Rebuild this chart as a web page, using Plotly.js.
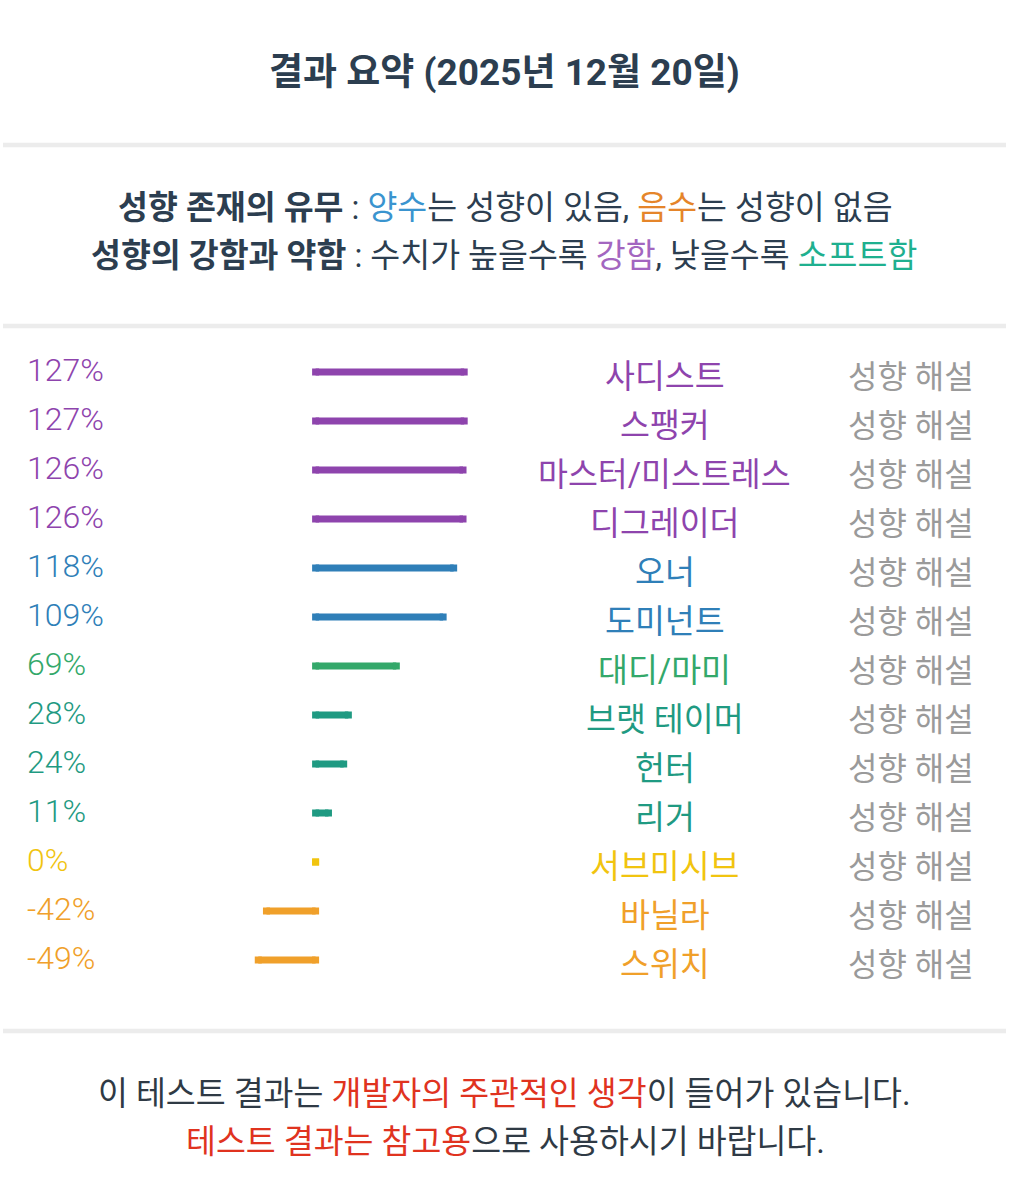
<!DOCTYPE html>
<html lang="ko">
<head>
<meta charset="utf-8">
<title>결과 요약</title>
<script src="https://cdn.plot.ly/plotly-3.0.1.min.js"></script>
<style>
  html, body { margin: 0; padding: 0; background: #ffffff; }
  #chart { width: 1025px; height: 1200px; }
</style>
</head>
<body>
<div id="chart"></div>
<script>
// Result data: trait names and their scores (%)
const traits = ['사디스트', '스팽커', '마스터/미스트레스', '디그레이더', '오너', '도미넌트',
                '대디/마미', '브랫 테이머', '헌터', '리거', '서브미시브', '바닐라', '스위치'];
const scores = [127, 127, 126, 126, 118, 109, 69, 28, 24, 11, 0, -42, -49];
const detailLabel = '성향 해설';

const titleText = '결과 요약 (2025년 12월 20일)';

// Palette for each row's bar and labels
const PURPLE = '#8e44ad', BLUE = '#2f7fb8', GREEN = '#33a86a', TEAL = '#1f9a82',
      YELLOW = '#f1c40f', ORANGE = '#f0a02a';
const rowColors = [PURPLE, PURPLE, PURPLE, PURPLE, BLUE, BLUE, GREEN, TEAL, TEAL, TEAL, YELLOW, ORANGE, ORANGE];

const W = 1025, H = 1200;
const FONT = 'Roboto, "Noto Sans CJK KR", sans-serif';
const DARK = '#2c3e50';
const BODY = 32.5;
const px = v => v / W;          // horizontal pixel -> paper
const py = v => 1 - v / H;      // vertical pixel (from top) -> paper

// Horizontal scale: 1.17 px per percent, zero line at x = 315.6 px
const PX_PER_PCT = 1.17, ZERO_X = 315.6;
const xMin = -ZERO_X / PX_PER_PCT, xMax = xMin + W / PX_PER_PCT;
// Rows start at y = 372 px and are 49 px apart
const ROW0 = 372, ROW_STEP = 49;
const yTop = (0 - ROW0) / ROW_STEP, yBottom = (H - ROW0) / ROW_STEP;

// One thick line per trait, with square ends
const traces = scores.map((v, i) => ({
  type: 'scatter',
  mode: 'lines+markers',
  x: [0, v],
  y: [i, i],
  line: { color: rowColors[i], width: 7 },
  marker: { symbol: 'square', size: 7, color: rowColors[i] },
  hoverinfo: 'skip',
  showlegend: false
}));

const annotations = [];

// Title
annotations.push({
  xref: 'paper', yref: 'paper', x: px(504), y: py(73),
  xanchor: 'center', yanchor: 'middle', showarrow: false,
  text: '<b>' + titleText + '</b>',
  font: { family: FONT, size: 37, color: DARK }
});

// Explanation lines
annotations.push({
  xref: 'paper', yref: 'paper', x: px(505), y: py(208),
  xanchor: 'center', yanchor: 'middle', showarrow: false,
  text: '<b>성향 존재의 유무</b> : <span style="color:#3a94cf">양수</span>는 성향이 있음, ' +
        '<span style="color:#e5852a">음수</span>는 성향이 없음',
  font: { family: FONT, size: BODY, color: DARK }
});
annotations.push({
  xref: 'paper', yref: 'paper', x: px(504), y: py(256),
  xanchor: 'center', yanchor: 'middle', showarrow: false,
  text: '<b>성향의 강함과 약함</b> : 수치가 높을수록 <span style="color:#a366c0">강함</span>, ' +
        '낮을수록 <span style="color:#1fb08f">소프트함</span>',
  font: { family: FONT, size: BODY, color: DARK }
});

// Row labels: score, trait name, detail link
scores.forEach((v, i) => {
  annotations.push({
    xref: 'paper', yref: 'y', x: px(25), y: i, yshift: 2,
    xanchor: 'left', yanchor: 'middle', showarrow: false,
    text: v + '%',
    font: { family: FONT, size: 32, weight: 300, color: rowColors[i] }
  });
  annotations.push({
    xref: 'paper', yref: 'y', x: px(664.5), y: i, yshift: -5,
    xanchor: 'center', yanchor: 'middle', showarrow: false,
    text: traits[i],
    font: { family: FONT, size: BODY, color: rowColors[i] }
  });
  annotations.push({
    xref: 'paper', yref: 'y', x: px(910.5), y: i, yshift: -5,
    xanchor: 'center', yanchor: 'middle', showarrow: false,
    text: detailLabel,
    font: { family: FONT, size: 32, color: '#9a9a9a' }
  });
});

// Footer notice
annotations.push({
  xref: 'paper', yref: 'paper', x: px(504.5), y: py(1094),
  xanchor: 'center', yanchor: 'middle', showarrow: false,
  text: '이 테스트 결과는 <span style="color:#e0331f">개발자의 주관적인 생각</span>이 들어가 있습니다.',
  font: { family: FONT, size: BODY, color: '#2f3a45' }
});
annotations.push({
  xref: 'paper', yref: 'paper', x: px(505), y: py(1142),
  xanchor: 'center', yanchor: 'middle', showarrow: false,
  text: '<span style="color:#e0331f">테스트 결과는 참고용</span>으로 사용하시기 바랍니다.',
  font: { family: FONT, size: BODY, color: '#2f3a45' }
});

// Divider rules between sections
const shapes = [145, 326, 1031].map(yy => ({
  type: 'line', xref: 'paper', yref: 'paper',
  x0: px(3), x1: px(1006), y0: py(yy), y1: py(yy),
  line: { color: '#ececec', width: 4.5 }
}));

const layout = {
  width: W, height: H,
  margin: { l: 0, r: 0, t: 0, b: 0, pad: 0 },
  paper_bgcolor: '#ffffff', plot_bgcolor: '#ffffff',
  showlegend: false,
  xaxis: { range: [xMin, xMax], domain: [0, 1], visible: false, fixedrange: true },
  yaxis: { range: [yBottom, yTop], domain: [0, 1], visible: false, fixedrange: true },
  annotations: annotations,
  shapes: shapes,
  font: { family: FONT }
};

Plotly.newPlot('chart', traces, layout, { displayModeBar: false, staticPlot: true });
</script>
</body>
</html>
